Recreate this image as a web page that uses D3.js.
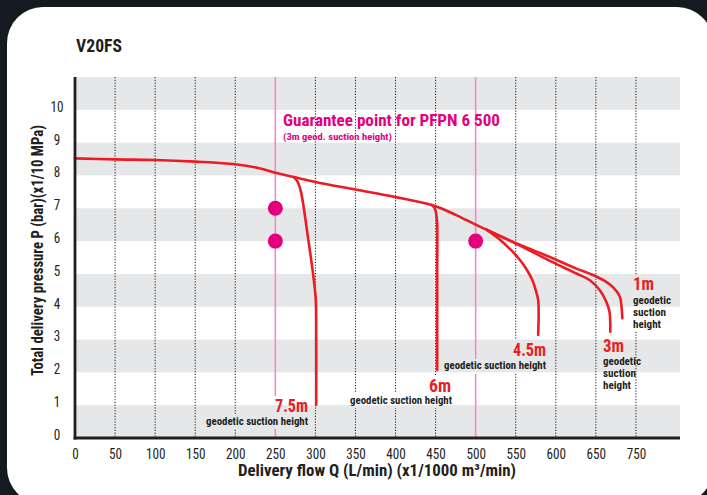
<!DOCTYPE html>
<html>
<head>
<meta charset="utf-8">
<script src="https://cdn.jsdelivr.net/npm/d3@7"></script>
<style>
  html, body { margin: 0; padding: 0; background: #131a21; }
  svg { display: block; }
  text { font-family: "Liberation Sans Narrow", "Roboto Condensed", "DejaVu Sans Condensed", Roboto, sans-serif; }
</style>
</head>
<body>
<script>
const W = 707, H = 495;

// data (Q in L/min, P in bar)
const xTickValues = [0, 50, 100, 150, 200, 250, 300, 350, 400, 450, 500, 550, 600, 650, 700];
const xTickLabels = ["0", "50", "100", "150", "200", "250", "300", "350", "400", "450", "500", "550", "600", "650", "750"];
const yTickValues = [0, 1, 2, 3, 4, 5, 6, 7, 8, 9, 10];
const gridFlows = [50, 100, 150, 200, 300, 350, 400, 450, 550, 600, 650, 700];
const guideFlows = [250, 500];

const mainCurve = [[0, 8.52], [50, 8.49], [100, 8.47], [150, 8.42], [200, 8.34], [230, 8.22], [250, 8.08],
  [273, 7.95], [300, 7.8], [350, 7.57], [400, 7.34], [448, 7.08], [475, 6.8], [500, 6.5], [514, 6.34]];
const curve75 = [[273, 7.95], [278, 7.8], [282, 7.5], [290, 6.24], [298, 4.82], [300.5, 4.2], [301, 3.0], [301, 1.01]];
const curve6 = [[445, 7.1], [449, 7.0], [451, 6.8], [452, 6.5], [452, 5.0], [452, 2.07]];
const curve45 = [[514, 6.34], [530, 6.05], [544, 5.73], [556, 5.4], [564, 5.12], [571, 4.8], [575, 4.5], [578, 4.2], [578, 3.14]];
const curve3 = [[514, 6.34], [552, 5.9], [594, 5.38], [625, 5.02], [643, 4.8], [655, 4.5], [663, 4.15], [667, 3.85], [668, 3.5], [668, 3.24]];
const curve1 = [[514, 6.34], [552, 5.92], [594, 5.5], [625, 5.17], [643, 5.0], [660, 4.8], [672, 4.58], [680, 4.3], [682, 4.0], [683, 3.65]];

const guaranteePoints = [[250, 7], [250, 6], [500, 6]];

const svg = d3.select("body").append("svg").attr("width", W).attr("height", H);

svg.append("rect").attr("width", W).attr("height", H).attr("fill", "#131a21");
svg.append("rect").attr("x", 7).attr("y", 7).attr("width", 706).attr("height", 497)
  .attr("rx", 36).attr("fill", "#fff");

const x = d3.scaleLinear().domain([0, 755]).range([75, 680]);
const y = d3.scaleLinear().domain([0, 11]).range([438, 77]);

const ink = "#231f20", red = "#ec1c24", magenta = "#e4007c", grey = "#e6e7e8";
const tickFont = "'Liberation Sans Narrow', 'Roboto Condensed', 'DejaVu Sans Condensed', Roboto, sans-serif";

// bands drawn into any group (used again under labels as knockouts)
function drawBands(g) {
  g.append("rect").attr("x", x(0)).attr("y", y(11)).attr("width", x(755) - x(0)).attr("height", y(0) - y(11)).attr("fill", "#fff");
  g.selectAll(".band").data(d3.range(0, 12, 2)).enter().append("rect")
    .attr("x", x(0)).attr("width", x(755) - x(0))
    .attr("y", d => y(Math.min(d + 1, 11)))
    .attr("height", d => y(d) - y(Math.min(d + 1, 11)))
    .attr("fill", grey);
}
drawBands(svg.append("g"));

// dotted grid
svg.selectAll(".grid").data(gridFlows).enter().append("line")
  .attr("x1", d => x(d)).attr("x2", d => x(d))
  .attr("y1", y(11)).attr("y2", y(0))
  .attr("stroke", ink).attr("stroke-width", 1).attr("stroke-dasharray", "1.2,1.6");

svg.selectAll(".guide").data(guideFlows).enter().append("line")
  .attr("x1", d => x(d)).attr("x2", d => x(d))
  .attr("y1", y(11)).attr("y2", y(0))
  .attr("stroke", "#f08cc6").attr("stroke-width", 1.6);

// knockout boxes behind labels
const boxes = [
  [273, 396, 38, 18], [204, 414, 106, 15],
  [427, 375, 27, 17], [348, 393, 106, 15],
  [510, 339, 39, 20], [442, 359, 107, 15],
  [631, 275, 45, 56]
];
boxes.forEach((b, i) => {
  const id = "clip" + i;
  svg.append("clipPath").attr("id", id).append("rect")
    .attr("x", b[0]).attr("y", b[1]).attr("width", b[2]).attr("height", b[3]);
  drawBands(svg.append("g").attr("clip-path", `url(#${id})`));
});

// curves
const line = d3.line().x(d => x(d[0])).y(d => y(d[1])).curve(d3.curveCatmullRom.alpha(0.5));
[mainCurve, curve75, curve6, curve45, curve3, curve1].forEach(c => {
  svg.append("path").attr("d", line(c)).attr("fill", "none")
    .attr("stroke", red).attr("stroke-width", 2.6).attr("stroke-linecap", "round").attr("stroke-linejoin", "round");
});

svg.selectAll(".pt").data(guaranteePoints).enter().append("circle")
  .attr("cx", d => x(d[0])).attr("cy", d => y(d[1])).attr("r", 7.5).attr("fill", magenta);

// axes
const xAxis = svg.append("g").attr("transform", `translate(0,${y(0)})`)
  .call(d3.axisBottom(x).tickValues(xTickValues).tickSize(0).tickPadding(11)
    .tickFormat((d, i) => xTickLabels[i]));
xAxis.select(".domain").remove();
xAxis.selectAll("text").attr("font-size", 14).attr("fill", ink).attr("font-family", tickFont)
  .attr("textLength", (d, i) => xTickLabels[i].length * 6.5).attr("lengthAdjust", "spacingAndGlyphs");

const yAxis = svg.append("g").attr("transform", "translate(57,0)")
  .call(d3.axisLeft(y).tickValues(yTickValues).tickSize(0).tickPadding(0));
yAxis.select(".domain").remove();
yAxis.selectAll("text").attr("text-anchor", "middle").attr("font-size", 14).attr("fill", ink)
  .attr("dy", "0.1em").attr("font-family", tickFont)
  .attr("textLength", d => String(d).length * 6.5).attr("lengthAdjust", "spacingAndGlyphs");

svg.append("line").attr("x1", x(0)).attr("x2", x(0)).attr("y1", y(11)).attr("y2", y(0) + 1.5)
  .attr("stroke", ink).attr("stroke-width", 2.8);
svg.append("line").attr("x1", x(0) - 1.4).attr("x2", x(755)).attr("y1", y(0)).attr("y2", y(0))
  .attr("stroke", ink).attr("stroke-width", 3);

// texts
function label(txt, px, py, size, len, color, anchor) {
  return svg.append("text").attr("x", px).attr("y", py).text(txt)
    .attr("font-size", size).attr("font-weight", "bold").attr("fill", color)
    .attr("text-anchor", anchor || "start")
    .attr("textLength", len).attr("lengthAdjust", "spacingAndGlyphs");
}

label("V20FS", 76, 52, 18.5, 46, ink);
label("Guarantee point for PFPN 6 500", 283, 126, 17, 217, magenta);
label("(3m geod. suction height)", 283, 140, 9.5, 109, magenta);

label("7.5m", 275, 412, 18, 33, red);
label("geodetic suction height", 206, 425, 10.5, 102, ink);
label("6m", 429, 392, 18, 22, red);
label("geodetic suction height", 350, 404, 10.5, 102, ink);
label("4.5m", 513, 356, 18, 33, red);
label("geodetic suction height", 444, 369, 10.5, 102, ink);
label("1m", 633, 290, 18, 21, red);
label("geodetic", 633, 304, 10.5, 38, ink);
label("suction", 633, 316, 10.5, 33, ink);
label("height", 633, 328, 10.5, 28, ink);
label("3m", 603, 352, 18, 21, red);
label("geodetic", 603, 365, 10.5, 38, ink);
label("suction", 603, 377, 10.5, 33, ink);
label("height", 603, 389, 10.5, 28, ink);

label("Delivery flow Q (L/min) (x1/1000 m\u00b3/min)", 377, 476, 17, 278, ink, "middle");
svg.append("text").attr("transform", "translate(43,250.5) rotate(-90)")
  .attr("text-anchor", "middle").attr("font-size", 17).attr("font-weight", "bold").attr("fill", ink)
  .attr("textLength", 251).attr("lengthAdjust", "spacingAndGlyphs")
  .text("Total delivery pressure P (bar)(x1/10 MPa)");
</script>
</body>
</html>
